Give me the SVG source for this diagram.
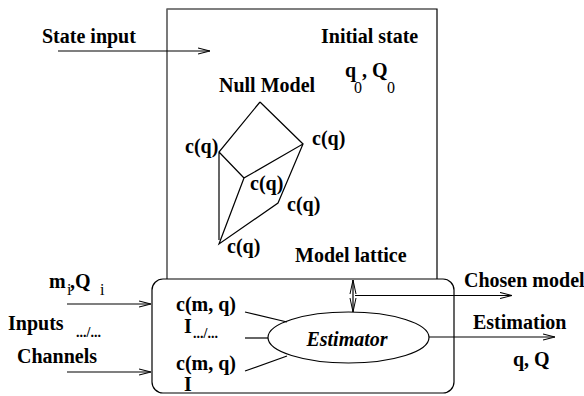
<svg xmlns="http://www.w3.org/2000/svg" width="584" height="396" viewBox="0 0 584 396">
<defs>
<marker id="ah" viewBox="0 0 12 8" refX="12" refY="4" markerWidth="12" markerHeight="8" markerUnits="userSpaceOnUse" orient="auto">
<path d="M0,1 L12,4 L0,7" fill="none" stroke="#000" stroke-width="1.2"/>
</marker>
<marker id="ahs" viewBox="0 0 14 8" refX="14" refY="4" markerWidth="14" markerHeight="8" markerUnits="userSpaceOnUse" orient="auto-start-reverse">
<path d="M0,1 L14,4 L0,7" fill="none" stroke="#000" stroke-width="1"/>
</marker>
</defs>
<style>
text{font-family:'Liberation Serif','Times New Roman','DejaVu Serif',serif;font-weight:bold;font-size:20px;fill:#000}
.sub{font-weight:normal;font-size:16px}
.sm{font-size:14px}
.it{font-style:italic}
.ln{fill:none;stroke:#000;stroke-width:1.2}
</style>
<rect width="584" height="396" fill="#fff"/>
<g id="model-lattice-box">
<path d="M167,279 L167,9 L437,9 L437,279" class="ln"/>
<line x1="167" y1="9" x2="167" y2="279" stroke="#888" stroke-width="1.2"/>
<text x="321" y="43">Initial state</text>
<text x="345" y="77">q</text><text class="sub" x="354" y="93">0</text><text x="362" y="77">,</text>
<text x="372" y="77">Q</text><text class="sub" x="387" y="93">0</text>
<text x="219" y="92">Null Model</text>
<text x="295" y="262">Model lattice</text>
</g>
<g id="lattice">
<path d="M260,102 L219,152 L219,240 M260,102 L303,144 L244,178 L219,244 L278,203 L303,144 M219,152 L244,178" class="ln" stroke-width="1"/>
<text x="185" y="153">c(q)</text>
<text x="312" y="145">c(q)</text>
<text x="250" y="190">c(q)</text>
<text x="287" y="211">c(q)</text>
<text x="227" y="253">c(q)</text>
</g>
<g id="estimator-box">
<rect x="152" y="279" width="302" height="114" rx="11" ry="11" class="ln"/>
<text x="176" y="311">c(m, q)</text>
<text x="184" y="333">I</text>
<text class="sm" x="193" y="338">.../...</text>
<text x="176" y="370">c(m, q)</text>
<text x="184" y="391">I</text>
</g>
<g id="estimator">
<ellipse cx="348.5" cy="337.5" rx="80.5" ry="25.5" class="ln" fill="#fff"/>
<text class="it" x="347" y="346" text-anchor="middle">Estimator</text>
</g>
<g id="labels">
<text x="42" y="43">State input</text>
<text x="49" y="288">m</text><text class="sub" x="67" y="295">i</text><text x="70" y="288">,</text>
<text x="75" y="288">Q</text><text class="sub" x="100" y="295">i</text>
<text x="8" y="330">Inputs</text>
<text class="sm" x="76" y="337">.../...</text>
<text x="17" y="363">Channels</text>
<text x="464" y="287">Chosen model</text>
<text x="473" y="329">Estimation</text>
<text x="513" y="366">q, Q</text>
</g>
<g id="connectors">
<line x1="58" y1="51" x2="210" y2="51" class="ln" marker-end="url(#ah)"/>
<line x1="67" y1="304" x2="151" y2="304" class="ln" marker-end="url(#ah)"/>
<line x1="67" y1="372" x2="151" y2="372" class="ln" marker-end="url(#ah)"/>
<line x1="353" y1="280" x2="353" y2="312" class="ln" marker-start="url(#ahs)" marker-end="url(#ahs)"/>
<line x1="355" y1="295.5" x2="512" y2="295.5" class="ln" marker-end="url(#ah)"/>
<line x1="429" y1="337" x2="555" y2="337" class="ln" marker-end="url(#ah)"/>
<line x1="245" y1="312" x2="287" y2="322" class="ln"/>
<line x1="245" y1="338" x2="268" y2="338" class="ln"/>
<line x1="245" y1="371" x2="287" y2="356" class="ln"/>
</g>
</svg>
